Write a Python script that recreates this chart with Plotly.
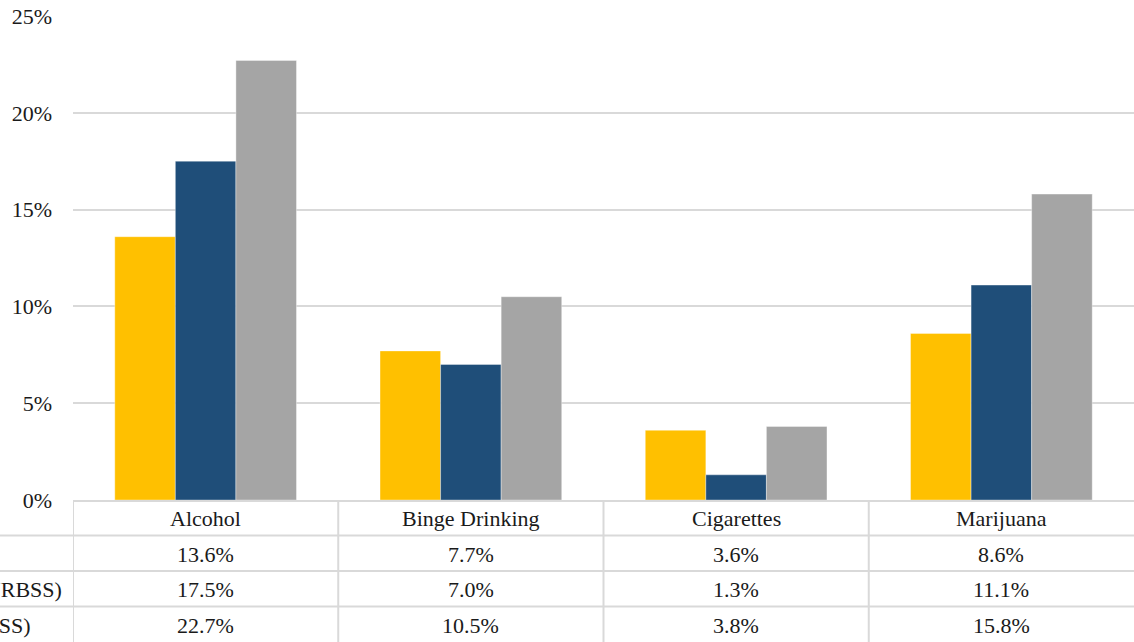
import plotly.graph_objects as go

# Substance-use prevalence by survey
categories = ["Alcohol", "Binge Drinking", "Cigarettes", "Marijuana"]
series_names = ["County Survey", "Michigan (MiYRBSS)", "National (YRBSS)"]
local_vals = [13.6, 7.7, 3.6, 8.6]
state_vals = [17.5, 7.0, 1.3, 11.1]
national_vals = [22.7, 10.5, 3.8, 15.8]
y_ticks = [0, 5, 10, 15, 20, 25]
y_tick_labels = ["0%", "5%", "10%", "15%", "20%", "25%"]

series_values = [local_vals, state_vals, national_vals]
colors = ["#FFC000", "#1F4E79", "#A5A5A5"]

FONT = "Liberation Serif"
TEXT = "#1a1a1a"
GRID = "#d9d9d9"
FS = 22

W, H = 1134, 642
M_L, M_R, M_T, M_B = 73, 0, 16, 142
plot_h = H - M_T - M_B
plot_w = W - M_L - M_R
row_h = 35.5


def py(px_below):
    """Paper y coordinate for a distance in pixels below the x axis."""
    return -px_below / plot_h


def px_x(px):
    """Paper x coordinate for an absolute pixel x position."""
    return (px - M_L) / plot_w


fig = go.Figure()
for name, vals, col in zip(series_names, series_values, colors):
    fig.add_trace(go.Bar(
        x=categories, y=vals, name=name,
        marker=dict(color=col, line=dict(color="rgba(255,255,255,0.6)", width=0.6)),
        showlegend=False,
    ))

shapes = []
# horizontal table rules
for k in (1, 2, 3):
    shapes.append(dict(type="line", xref="paper", yref="paper",
                       x0=px_x(0), x1=1, y0=py(k * row_h), y1=py(k * row_h),
                       line=dict(color=GRID, width=2)))
# vertical table rules at category boundaries
for b in (-0.5, 0.5, 1.5, 2.5):
    shapes.append(dict(type="line", xref="x", yref="paper",
                       x0=b, x1=b, y0=0, y1=py(M_B + 2),
                       line=dict(color=GRID, width=2)))

annotations = []
# header row: category names
for c in categories:
    annotations.append(dict(x=c, xref="x", y=py(row_h / 2 + 1), yref="paper",
                            text=c, showarrow=False, yanchor="middle",
                            font=dict(family=FONT, size=FS, color=TEXT)))
# value rows
for r, vals in enumerate(series_values):
    yc = py(row_h * (r + 1.5) + 1)
    for c, v in zip(categories, vals):
        annotations.append(dict(x=c, xref="x", y=yc, yref="paper",
                                text=f"{v:.1f}%", showarrow=False, yanchor="middle",
                                font=dict(family=FONT, size=FS, color=TEXT)))

# series labels in the row-header column (right edges in pixels)
label_right = [-8, 64, 33]
for r, (name, xr) in enumerate(zip(series_names, label_right)):
    annotations.append(dict(x=px_x(xr), xref="paper", y=py(row_h * (r + 1.5) + 1), yref="paper",
                            text=name, showarrow=False, xanchor="right", yanchor="middle",
                            font=dict(family=FONT, size=FS, color=TEXT)))

fig.update_layout(
    width=W, height=H,
    margin=dict(l=M_L, r=M_R, t=M_T, b=M_B, pad=0),
    paper_bgcolor="white", plot_bgcolor="white",
    barmode="group", bargap=0.315, bargroupgap=0,
    font=dict(family=FONT, size=FS, color=TEXT),
    shapes=shapes, annotations=annotations,
    xaxis=dict(showticklabels=False, showgrid=False, zeroline=False,
               showline=True, linecolor=GRID, linewidth=2,
               range=[-0.5, 3.5], fixedrange=True),
    yaxis=dict(range=[0, 25], tickvals=y_ticks, ticktext=y_tick_labels,
               showgrid=True, gridcolor=GRID, gridwidth=1.5,
               zeroline=False, showline=False, ticklabelstandoff=20,
               tickfont=dict(family=FONT, size=FS, color=TEXT), fixedrange=True),
)

fig.write_html("out.html")
